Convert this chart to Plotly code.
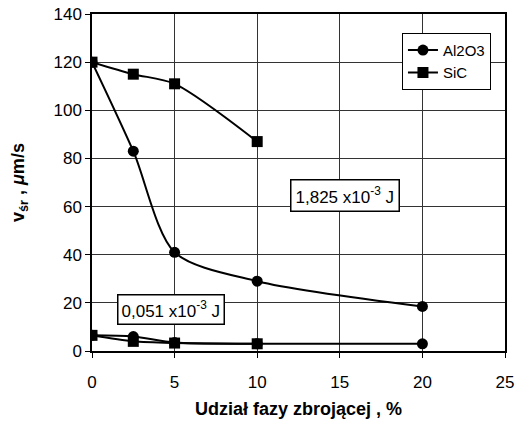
import plotly.graph_objects as go

x_al_hi = [0, 2.5, 5, 10, 20]
al_hi = [120, 83, 41, 29, 18.5]
x_sic_hi = [0, 2.5, 5, 10]
sic_hi = [120, 115, 111, 87]
x_al_lo = [0, 2.5, 5, 10, 20]
al_lo = [6.5, 6, 3.5, 3, 3]
x_sic_lo = [0, 2.5, 5, 10]
sic_lo = [6.5, 4, 3.3, 3]

FONT = "Liberation Sans, Arial, sans-serif"
fig = go.Figure()

def add(x, y, sym, name, show):
    fig.add_trace(go.Scatter(
        x=x, y=y, mode="lines+markers", name=name, showlegend=show,
        line=dict(color="black", width=2, shape="spline", smoothing=0.8),
        marker=dict(symbol=sym, size=11, color="black"),
        legendgroup=name))

add(x_al_hi, al_hi, "circle", "Al2O3", True)
add(x_sic_hi, sic_hi, "square", "SiC", True)
add(x_al_lo, al_lo, "circle", "Al2O3", False)
add(x_sic_lo, sic_lo, "square", "SiC", False)

axis_common = dict(showline=True, linecolor="black", linewidth=1.5, mirror=True,
                   showgrid=True, gridcolor="#333333", gridwidth=1,
                   ticks="outside", ticklen=5, tickcolor="black", zeroline=False,
                   automargin=False,
                   tickfont=dict(family=FONT, size=17, color="black"))

fig.update_layout(
    width=519, height=430,
    margin=dict(l=92, r=14, t=14, b=79),
    plot_bgcolor="white", paper_bgcolor="white",
    font=dict(family=FONT, color="black"),
    xaxis=dict(range=[0, 25], dtick=5, ticklabelstandoff=10,
               title=dict(text="<b>Udział fazy zbrojącej , %</b>", font=dict(size=18), standoff=11),
               **axis_common),
    yaxis=dict(range=[0, 140], dtick=20,
               title=dict(text="<b>v<sub>śr</sub> , <i>μ</i>m/s</b>", font=dict(size=18), standoff=24),
               **axis_common),
    legend=dict(x=0.966, y=0.944, xanchor="right", yanchor="top",
                bgcolor="white", bordercolor="black", borderwidth=1,
                font=dict(size=15, family=FONT), tracegroupgap=0,
                itemwidth=30),
    annotations=[
        dict(x=15.3, y=64.4, xref="x", yref="y", text="1,825 x10<sup>-3</sup> J",
             showarrow=False, bgcolor="white", bordercolor="black", borderwidth=1.5,
             borderpad=4, font=dict(size=17, family=FONT)),
        dict(x=4.8, y=17.2, xref="x", yref="y", text="0,051 x10<sup>-3</sup> J",
             showarrow=False, bgcolor="white", bordercolor="black", borderwidth=1.5,
             borderpad=3, font=dict(size=17, family=FONT)),
    ],
)

fig.write_html("out.html", config={"displayModeBar": False},
               post_script="document.body.style.margin='0';")
